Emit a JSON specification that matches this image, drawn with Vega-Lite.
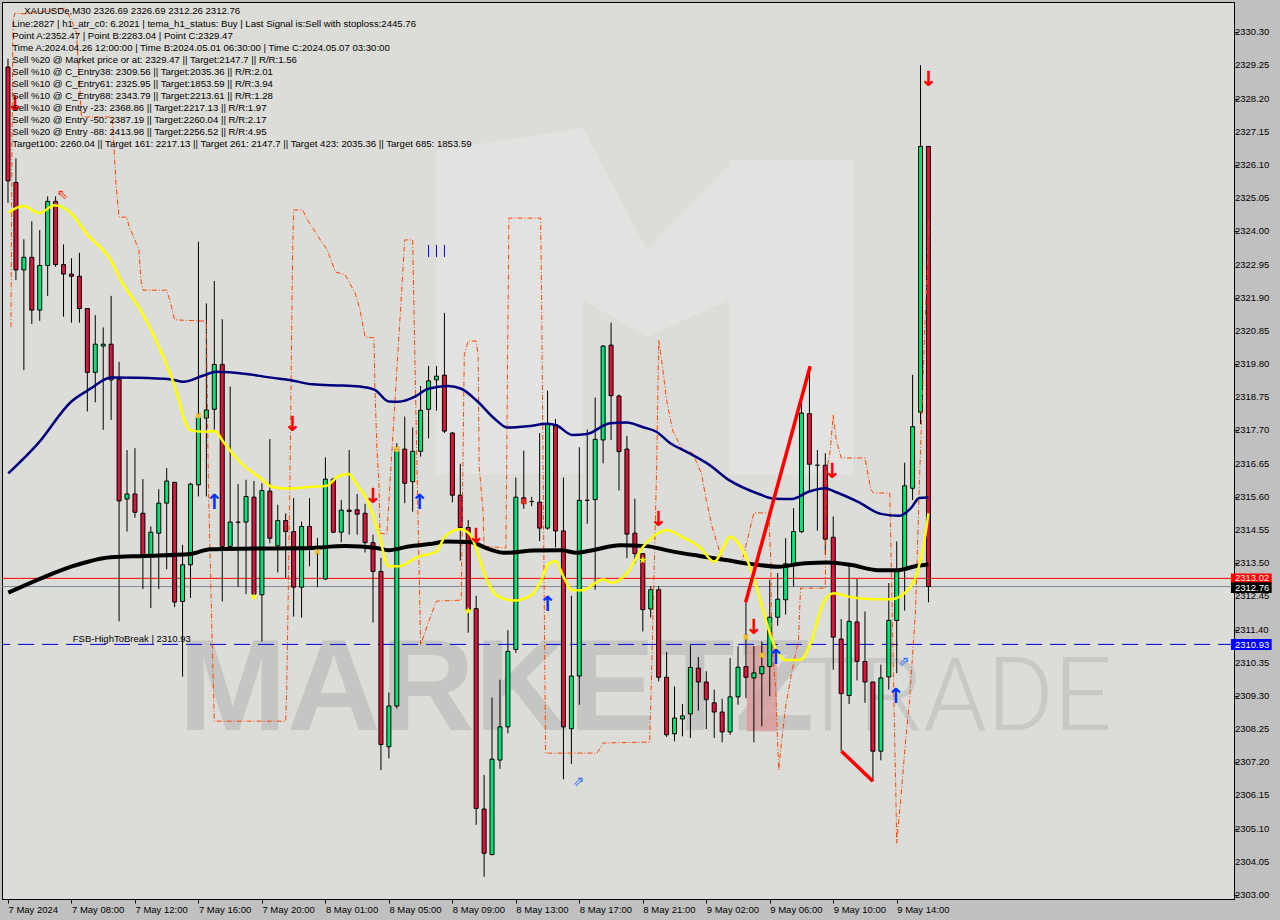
{
"$schema":"https://vega.github.io/schema/vega-lite/v6.json",
"width":1232,"height":897,"autosize":"none",
"padding":{"left":2,"top":2,"right":46,"bottom":21},
"background":"#c0c0c0",
"config":{"view":{"fill":"#dcdcd8","stroke":"#000000","strokeWidth":1},"font":"Liberation Sans",
 "axis":{"grid":false,"labelFont":"Liberation Sans","labelFontSize":9.5,"labelColor":"#000000","tickColor":"#000000","domainColor":"#000000","tickSize":4,"titleOpacity":0,"labelOverlap":false}},
"datasets":{
"candles":[
{"k":0,"o":2329.2,"h":2329.47,"l":2324.9,"c":2325.6},
{"k":1,"o":2325.55,"h":2326.31,"l":2322.46,"c":2322.78},
{"k":2,"o":2322.78,"h":2323.75,"l":2319.61,"c":2323.18},
{"k":3,"o":2323.18,"h":2324.32,"l":2321.07,"c":2321.51},
{"k":4,"o":2321.51,"h":2324.04,"l":2321.17,"c":2322.92},
{"k":5,"o":2322.92,"h":2325.11,"l":2321.96,"c":2324.95},
{"k":6,"o":2324.95,"h":2325.11,"l":2322.88,"c":2322.95},
{"k":7,"o":2322.95,"h":2323.59,"l":2321.30,"c":2322.65},
{"k":8,"o":2322.65,"h":2323.15,"l":2321.11,"c":2322.58},
{"k":9,"o":2322.58,"h":2323.32,"l":2321.11,"c":2321.56},
{"k":10,"o":2321.56,"h":2321.56,"l":2318.30,"c":2319.54},
{"k":11,"o":2319.54,"h":2321.35,"l":2318.59,"c":2320.43},
{"k":12,"o":2320.37,"h":2320.96,"l":2317.72,"c":2320.43},
{"k":13,"o":2320.43,"h":2321.96,"l":2318.03,"c":2319.30},
{"k":14,"o":2319.32,"h":2319.87,"l":2311.66,"c":2315.47},
{"k":15,"o":2315.53,"h":2317.08,"l":2314.50,"c":2315.69},
{"k":16,"o":2315.69,"h":2317.14,"l":2314.94,"c":2315.11},
{"k":17,"o":2315.08,"h":2316.16,"l":2312.68,"c":2313.77},
{"k":18,"o":2313.77,"h":2314.66,"l":2312.08,"c":2314.48},
{"k":19,"o":2314.45,"h":2315.84,"l":2312.68,"c":2315.40},
{"k":20,"o":2315.40,"h":2316.51,"l":2313.31,"c":2316.10},
{"k":21,"o":2316.06,"h":2316.06,"l":2312.11,"c":2312.27},
{"k":22,"o":2312.29,"h":2314.08,"l":2309.91,"c":2313.45},
{"k":23,"o":2313.45,"h":2316.05,"l":2312.40,"c":2316.00},
{"k":24,"o":2315.98,"h":2323.67,"l":2315.61,"c":2318.14},
{"k":25,"o":2318.09,"h":2321.72,"l":2315.61,"c":2318.35},
{"k":26,"o":2318.37,"h":2322.43,"l":2317.72,"c":2319.79},
{"k":27,"o":2319.79,"h":2321.22,"l":2312.29,"c":2314.03},
{"k":28,"o":2314.03,"h":2319.09,"l":2314.03,"c":2314.80},
{"k":29,"o":2314.80,"h":2316.00,"l":2312.74,"c":2314.79},
{"k":30,"o":2314.80,"h":2316.14,"l":2312.52,"c":2315.61},
{"k":31,"o":2315.59,"h":2316.10,"l":2312.45,"c":2312.52},
{"k":32,"o":2312.50,"h":2316.03,"l":2311.02,"c":2315.80},
{"k":33,"o":2315.78,"h":2317.43,"l":2314.13,"c":2314.29},
{"k":34,"o":2314.05,"h":2315.35,"l":2313.21,"c":2314.85},
{"k":35,"o":2314.85,"h":2315.08,"l":2313.03,"c":2314.50},
{"k":36,"o":2314.50,"h":2315.56,"l":2311.81,"c":2312.74},
{"k":37,"o":2312.74,"h":2314.82,"l":2311.78,"c":2314.66},
{"k":38,"o":2314.66,"h":2315.56,"l":2313.40,"c":2314.03},
{"k":39,"o":2314.03,"h":2314.30,"l":2312.74,"c":2313.97},
{"k":40,"o":2313.00,"h":2316.85,"l":2312.97,"c":2316.16},
{"k":41,"o":2316.16,"h":2316.20,"l":2314.45,"c":2314.48},
{"k":42,"o":2314.48,"h":2315.50,"l":2314.16,"c":2315.18},
{"k":43,"o":2315.18,"h":2317.08,"l":2314.40,"c":2315.14},
{"k":44,"o":2315.19,"h":2315.69,"l":2314.40,"c":2315.05},
{"k":45,"o":2315.08,"h":2315.38,"l":2313.84,"c":2314.15},
{"k":46,"o":2314.15,"h":2314.40,"l":2311.62,"c":2313.24},
{"k":47,"o":2313.24,"h":2313.67,"l":2306.95,"c":2307.76},
{"k":48,"o":2307.69,"h":2309.41,"l":2307.32,"c":2308.98},
{"k":49,"o":2308.98,"h":2317.30,"l":2308.90,"c":2317.11},
{"k":50,"o":2317.11,"h":2318.14,"l":2315.40,"c":2316.03},
{"k":51,"o":2316.08,"h":2317.80,"l":2315.13,"c":2317.04},
{"k":52,"o":2317.04,"h":2319.11,"l":2316.87,"c":2318.34},
{"k":53,"o":2318.37,"h":2319.74,"l":2317.45,"c":2319.27},
{"k":54,"o":2319.30,"h":2319.74,"l":2318.33,"c":2319.42},
{"k":55,"o":2319.45,"h":2321.42,"l":2317.62,"c":2317.68},
{"k":56,"o":2317.62,"h":2317.65,"l":2315.42,"c":2315.65},
{"k":57,"o":2315.65,"h":2316.65,"l":2313.58,"c":2314.63},
{"k":58,"o":2314.63,"h":2314.87,"l":2311.30,"c":2312.00},
{"k":59,"o":2312.06,"h":2312.47,"l":2305.22,"c":2305.74},
{"k":60,"o":2305.72,"h":2306.80,"l":2303.58,"c":2304.32},
{"k":61,"o":2304.28,"h":2309.25,"l":2304.25,"c":2307.30},
{"k":62,"o":2307.27,"h":2309.81,"l":2306.99,"c":2308.32},
{"k":63,"o":2308.32,"h":2311.38,"l":2308.12,"c":2310.71},
{"k":64,"o":2310.77,"h":2316.21,"l":2310.66,"c":2315.59},
{"k":65,"o":2315.57,"h":2317.06,"l":2315.22,"c":2315.39},
{"k":66,"o":2315.45,"h":2315.60,"l":2315.30,"c":2315.45},
{"k":67,"o":2315.43,"h":2317.62,"l":2314.20,"c":2314.61},
{"k":68,"o":2314.61,"h":2318.96,"l":2314.56,"c":2317.89},
{"k":69,"o":2317.89,"h":2318.06,"l":2314.00,"c":2314.52},
{"k":70,"o":2314.52,"h":2316.21,"l":2306.66,"c":2308.32},
{"k":71,"o":2308.26,"h":2312.47,"l":2307.15,"c":2309.93},
{"k":72,"o":2309.93,"h":2317.17,"l":2309.02,"c":2315.49},
{"k":73,"o":2315.49,"h":2317.73,"l":2314.75,"c":2315.49},
{"k":74,"o":2315.51,"h":2318.74,"l":2312.66,"c":2317.42},
{"k":75,"o":2317.40,"h":2320.40,"l":2316.66,"c":2320.37},
{"k":76,"o":2320.40,"h":2321.11,"l":2317.40,"c":2318.80},
{"k":77,"o":2318.79,"h":2318.84,"l":2315.80,"c":2317.03},
{"k":78,"o":2317.11,"h":2317.53,"l":2313.66,"c":2314.42},
{"k":79,"o":2314.45,"h":2315.54,"l":2313.50,"c":2313.80},
{"k":80,"o":2313.80,"h":2313.82,"l":2311.34,"c":2312.03},
{"k":81,"o":2312.05,"h":2312.77,"l":2311.78,"c":2312.66},
{"k":82,"o":2312.66,"h":2312.77,"l":2309.76,"c":2309.89},
{"k":83,"o":2309.89,"h":2310.69,"l":2308.00,"c":2308.07},
{"k":84,"o":2308.10,"h":2309.60,"l":2307.86,"c":2308.60},
{"k":85,"o":2308.57,"h":2309.04,"l":2308.02,"c":2308.67},
{"k":86,"o":2308.73,"h":2310.90,"l":2307.97,"c":2310.20},
{"k":87,"o":2310.18,"h":2310.53,"l":2308.83,"c":2309.74},
{"k":88,"o":2309.74,"h":2310.08,"l":2308.25,"c":2309.18},
{"k":89,"o":2309.08,"h":2309.50,"l":2307.97,"c":2308.79},
{"k":90,"o":2308.79,"h":2309.21,"l":2307.83,"c":2308.16},
{"k":91,"o":2308.16,"h":2310.50,"l":2308.07,"c":2309.27},
{"k":92,"o":2309.27,"h":2310.87,"l":2309.02,"c":2310.21},
{"k":93,"o":2310.23,"h":2312.26,"l":2309.23,"c":2309.89},
{"k":94,"o":2309.87,"h":2310.87,"l":2307.83,"c":2310.03},
{"k":95,"o":2310.00,"h":2311.02,"l":2308.34,"c":2310.23},
{"k":96,"o":2310.23,"h":2312.97,"l":2309.29,"c":2311.79},
{"k":97,"o":2311.79,"h":2313.19,"l":2311.52,"c":2312.36},
{"k":98,"o":2312.34,"h":2314.29,"l":2311.87,"c":2313.48},
{"k":99,"o":2313.48,"h":2315.24,"l":2312.76,"c":2314.50},
{"k":100,"o":2314.50,"h":2318.61,"l":2314.45,"c":2318.25},
{"k":101,"o":2318.23,"h":2319.72,"l":2315.72,"c":2316.63},
{"k":102,"o":2316.60,"h":2317.08,"l":2314.53,"c":2316.60},
{"k":103,"o":2316.60,"h":2316.98,"l":2313.76,"c":2314.26},
{"k":104,"o":2314.32,"h":2314.98,"l":2310.13,"c":2311.16},
{"k":105,"o":2311.10,"h":2311.73,"l":2307.55,"c":2309.37},
{"k":106,"o":2309.31,"h":2313.42,"l":2309.04,"c":2311.66},
{"k":107,"o":2311.64,"h":2313.00,"l":2309.79,"c":2310.39},
{"k":108,"o":2310.39,"h":2311.97,"l":2309.08,"c":2309.74},
{"k":109,"o":2309.74,"h":2309.74,"l":2306.60,"c":2307.55},
{"k":110,"o":2307.55,"h":2310.29,"l":2307.26,"c":2309.87},
{"k":111,"o":2309.90,"h":2312.87,"l":2309.50,"c":2311.69},
{"k":112,"o":2311.69,"h":2314.19,"l":2310.02,"c":2313.29},
{"k":113,"o":2313.29,"h":2316.68,"l":2312.00,"c":2315.95},
{"k":114,"o":2315.87,"h":2319.46,"l":2315.50,"c":2317.82},
{"k":115,"o":2318.28,"h":2329.26,"l":2317.90,"c":2326.69},
{"k":116,"o":2326.69,"h":2326.69,"l":2312.26,"c":2312.76}
],
"yellow":[
{"k":0.04,"p":2324.59},{"k":1.91,"p":2324.80},{"k":4,"p":2324.58},{"k":5.88,"p":2324.83},{"k":7.75,"p":2324.62},{"k":10.04,"p":2323.89},{"k":12.96,"p":2323.09},{"k":14.21,"p":2322.46},{"k":16.71,"p":2321.51},{"k":19.21,"p":2320.25},{"k":20.88,"p":2319.20},{"k":22.96,"p":2317.71},{"k":24.63,"p":2317.66},{"k":26.09,"p":2317.68},{"k":27.13,"p":2317.34},{"k":29.21,"p":2316.71},{"k":32.13,"p":2316.13},{"k":33.16,"p":2315.92},{"k":35.46,"p":2315.86},{"k":38.38,"p":2315.92},{"k":40.04,"p":2315.94},{"k":41.71,"p":2316.26},{"k":42.96,"p":2316.32},{"k":44,"p":2315.97},{"k":45.25,"p":2315.50},{"k":46.71,"p":2314.45},{"k":47.96,"p":2313.40},{"k":49.21,"p":2313.40},{"k":51.71,"p":2313.71},{"k":54,"p":2313.87},{"k":55.04,"p":2314.33},{"k":56.91,"p":2314.57},{"k":58.16,"p":2314.43},{"k":59,"p":2313.98},{"k":60.04,"p":2313.16},{"k":61.71,"p":2312.46},{"k":63.79,"p":2312.32},{"k":66.09,"p":2312.52},{"k":67.13,"p":2312.93},{"k":68.16,"p":2313.49},{"k":69,"p":2313.57},{"k":70.04,"p":2313.05},{"k":71.09,"p":2312.64},{"k":72.34,"p":2312.64},{"k":75.04,"p":2312.99},{"k":76.09,"p":2312.88},{"k":77.96,"p":2313.18},{"k":80.04,"p":2314.02},{"k":81.29,"p":2314.34},{"k":82.96,"p":2314.55},{"k":85.04,"p":2314.32},{"k":87.13,"p":2314.02},{"k":89,"p":2313.55},{"k":91.09,"p":2314.34},{"k":92.34,"p":2314.02},{"k":93.79,"p":2313.18},{"k":95.04,"p":2312.12},{"k":96.29,"p":2311.07},{"k":97.96,"p":2310.44},{"k":99.84,"p":2310.44},{"k":101.29,"p":2311.07},{"k":102.54,"p":2312.12},{"k":104,"p":2312.55},{"k":106.29,"p":2312.42},{"k":109.21,"p":2312.36},{"k":111.29,"p":2312.36},{"k":112.96,"p":2312.55},{"k":114.63,"p":2313.25},{"k":115.46,"p":2314.14},{"k":116,"p":2315.08}
],
"navy":[
{"k":0.04,"p":2316.34},{"k":3.79,"p":2317.29},{"k":7.96,"p":2318.61},{"k":10.46,"p":2319.03},{"k":12.96,"p":2319.38},{"k":16.29,"p":2319.37},{"k":20.46,"p":2319.32},{"k":22.13,"p":2319.24},{"k":24.63,"p":2319.44},{"k":26.29,"p":2319.56},{"k":30.04,"p":2319.49},{"k":32.96,"p":2319.38},{"k":35.46,"p":2319.30},{"k":38.38,"p":2319.16},{"k":42.13,"p":2319.12},{"k":44.63,"p":2319.08},{"k":46.29,"p":2318.98},{"k":47.96,"p":2318.62},{"k":49.21,"p":2318.61},{"k":51.29,"p":2318.77},{"k":52.96,"p":2319.02},{"k":55.46,"p":2319.11},{"k":57.13,"p":2319.02},{"k":59.21,"p":2318.61},{"k":61.29,"p":2318.08},{"k":62.96,"p":2317.79},{"k":65.46,"p":2317.83},{"k":67.96,"p":2317.91},{"k":69.21,"p":2317.85},{"k":71.09,"p":2317.56},{"k":72.96,"p":2317.59},{"k":75.88,"p":2317.93},{"k":77.96,"p":2317.95},{"k":80.04,"p":2317.80},{"k":81.71,"p":2317.66},{"k":83.38,"p":2317.31},{"k":85.46,"p":2317.03},{"k":88.38,"p":2316.61},{"k":90.88,"p":2316.13},{"k":94.63,"p":2315.69},{"k":96.29,"p":2315.55},{"k":98.79,"p":2315.53},{"k":100.88,"p":2315.76},{"k":102.96,"p":2315.87},{"k":104.21,"p":2315.76},{"k":107.13,"p":2315.44},{"k":110,"p":2315.06},{"k":112.34,"p":2315.00},{"k":113.79,"p":2315.24},{"k":114.84,"p":2315.56},{"k":116,"p":2315.58}
],
"black":[
{"k":0.04,"p":2312.57},{"k":4.63,"p":2313.07},{"k":7.96,"p":2313.39},{"k":12.96,"p":2313.69},{"k":17.13,"p":2313.73},{"k":22.96,"p":2313.79},{"k":25.46,"p":2313.94},{"k":29.63,"p":2313.96},{"k":37.13,"p":2313.97},{"k":42.54,"p":2314.04},{"k":46.29,"p":2313.99},{"k":47.96,"p":2313.91},{"k":50.46,"p":2314.03},{"k":53.79,"p":2314.13},{"k":55.04,"p":2314.19},{"k":58.38,"p":2314.16},{"k":60.46,"p":2313.96},{"k":62.54,"p":2313.83},{"k":66.29,"p":2313.90},{"k":69.63,"p":2313.91},{"k":71.71,"p":2313.83},{"k":73.79,"p":2313.92},{"k":77.13,"p":2314.07},{"k":80.46,"p":2314.04},{"k":83.38,"p":2313.89},{"k":87.13,"p":2313.73},{"k":90.46,"p":2313.60},{"k":93.79,"p":2313.47},{"k":97.13,"p":2313.39},{"k":100.46,"p":2313.50},{"k":103.38,"p":2313.52},{"k":106.29,"p":2313.44},{"k":109.63,"p":2313.28},{"k":112.13,"p":2313.28},{"k":114.63,"p":2313.42},{"k":116,"p":2313.46}
],
"orange":[
{"k":0.375,"p":2320.97},{"k":0.5,"p":2326.58},{"k":0.625,"p":2330.69},{"k":0.875,"p":2330.91},{"k":2.125,"p":2330.88},{"k":6.25,"p":2331.01},{"k":7.125,"p":2331.07},{"k":8,"p":2330.69},{"k":8.625,"p":2330.28},{"k":9,"p":2328.79},{"k":9.25,"p":2327.62},{"k":13.125,"p":2327.62},{"k":13.375,"p":2326.58},{"k":13.6,"p":2325.53},{"k":14,"p":2324.45},{"k":15,"p":2324.45},{"k":15.25,"p":2324.14},{"k":15.625,"p":2323.95},{"k":16.5,"p":2323.41},{"k":16.75,"p":2322.46},{"k":17,"p":2322.14},{"k":20,"p":2322.14},{"k":20.5,"p":2321.73},{"k":21,"p":2321.20},{"k":25,"p":2321.16},{"k":25.25,"p":2316.04},{"k":25.75,"p":2310.85},{"k":26,"p":2308.50},{"k":35,"p":2308.50},{"k":35.125,"p":2309.48},{"k":35.5,"p":2315.50},{"k":35.875,"p":2323.41},{"k":36,"p":2324.68},{"k":37.125,"p":2324.68},{"k":37.75,"p":2324.36},{"k":39.375,"p":2323.73},{"k":40.25,"p":2323.41},{"k":41.25,"p":2322.72},{"k":42.5,"p":2322.62},{"k":43.75,"p":2322.05},{"k":44.375,"p":2321.51},{"k":45,"p":2320.66},{"k":46.125,"p":2320.63},{"k":46.25,"p":2318.98},{"k":46.5,"p":2317.08},{"k":46.75,"p":2316.04},{"k":46.875,"p":2314.45},{"k":47.75,"p":2314.42},{"k":50,"p":2323.73},{"k":51,"p":2323.73},{"k":51.5,"p":2317.08},{"k":52,"p":2310.91},{"k":53,"p":2311.64},{"k":54,"p":2312.30},{"k":57.125,"p":2312.33},{"k":57.5,"p":2320.09},{"k":58,"p":2320.53},{"k":59,"p":2320.53},{"k":59.25,"p":2320.09},{"k":59.375,"p":2316.57},{"k":59.875,"p":2315.15},{"k":60,"p":2314.04},{"k":62.75,"p":2313.98},{"k":63.125,"p":2324.42},{"k":67.125,"p":2324.42},{"k":67.25,"p":2321.83},{"k":67.75,"p":2307.49},{"k":74.25,"p":2307.49},{"k":75,"p":2307.81},{"k":80.875,"p":2307.84},{"k":81.125,"p":2310.21},{"k":81.75,"p":2316.54},{"k":82,"p":2320.56},{"k":82.375,"p":2319.93},{"k":83,"p":2318.66},{"k":83.75,"p":2317.71},{"k":85,"p":2317.08},{"k":86.25,"p":2316.99},{"k":87.375,"p":2316.35},{"k":88,"p":2315.50},{"k":88.75,"p":2314.64},{"k":89.625,"p":2313.92},{"k":90,"p":2313.60},{"k":92.5,"p":2313.54},{"k":93.375,"p":2314.45},{"k":94,"p":2315.09},{"k":95.875,"p":2315.09},{"k":96.125,"p":2313.60},{"k":96.25,"p":2311.07},{"k":96.75,"p":2309.49},{"k":97.125,"p":2306.95},{"k":97.5,"p":2307.90},{"k":98,"p":2308.95},{"k":98.75,"p":2310.02},{"k":99.625,"p":2311.07},{"k":99.875,"p":2312.71},{"k":103,"p":2312.71},{"k":103.125,"p":2316.35},{"k":103.625,"p":2317.08},{"k":104,"p":2318.19},{"k":104.375,"p":2317.40},{"k":105,"p":2316.83},{"k":108,"p":2316.83},{"k":108.75,"p":2315.82},{"k":109.125,"p":2315.72},{"k":111.125,"p":2315.72},{"k":111.25,"p":2314.23},{"k":111.5,"p":2311.07},{"k":111.75,"p":2307.90},{"k":111.875,"p":2306.42},{"k":112,"p":2304.64},{"k":112.5,"p":2306.00},{"k":113.125,"p":2307.90},{"k":113.625,"p":2309.17},{"k":114.375,"p":2312.02},{"k":114.875,"p":2316.16},{"k":115.25,"p":2318.88},{"k":115.625,"p":2321.48},{"k":115.875,"p":2322.97},{"k":116,"p":2324.33}
],
"trend":[
{"g":1,"k":92.96,"p":2312.26},{"g":1,"k":101.09,"p":2319.73},{"g":2,"k":105.04,"p":2307.55},{"g":2,"k":109,"p":2306.60}
],
"logo":[
{"g":"a","k":54,"p":2326.57,"p2":2316.32},{"g":"a","k":72.5,"p":2327.27,"p2":2316.32},
{"g":"b","k":72.5,"p":2327.27,"p2":2321.83},{"g":"b","k":80.5,"p":2323.41,"p2":2320.66},{"g":"b","k":90.875,"p":2326.10,"p2":2321.83},
{"g":"c","k":90.875,"p":2326.26,"p2":2316.29},{"g":"c","k":106.5,"p":2326.26,"p2":2316.29}
],
"priceLabels":[
{"p":2303.00,"t":"2303.00"},{"p":2304.05,"t":"2304.05"},{"p":2305.10,"t":"2305.10"},{"p":2306.15,"t":"2306.15"},{"p":2307.20,"t":"2307.20"},{"p":2308.25,"t":"2308.25"},{"p":2309.30,"t":"2309.30"},{"p":2310.35,"t":"2310.35"},{"p":2311.40,"t":"2311.40"},{"p":2312.45,"t":"2312.45"},{"p":2313.50,"t":"2313.50"},{"p":2314.55,"t":"2314.55"},{"p":2315.60,"t":"2315.60"},{"p":2316.65,"t":"2316.65"},{"p":2317.70,"t":"2317.70"},{"p":2318.75,"t":"2318.75"},{"p":2319.80,"t":"2319.80"},{"p":2320.85,"t":"2320.85"},{"p":2321.90,"t":"2321.90"},{"p":2322.95,"t":"2322.95"},{"p":2324.00,"t":"2324.00"},{"p":2325.05,"t":"2325.05"},{"p":2326.10,"t":"2326.10"},{"p":2327.15,"t":"2327.15"},{"p":2328.20,"t":"2328.20"},{"p":2329.25,"t":"2329.25"},{"p":2330.30,"t":"2330.30"}
],
"redArrows":[
{"k":0.875,"p":2328.00},{"k":35.875,"p":2317.87},{"k":46,"p":2315.59},{"k":59,"p":2314.33},{"k":82,"p":2314.87},{"k":94,"p":2311.45},{"k":103.875,"p":2316.39},{"k":116,"p":2328.79}
],
"blueArrows":[
{"k":26,"p":2315.41},{"k":51.875,"p":2315.41},{"k":68,"p":2312.18},{"k":96.75,"p":2310.50},{"k":111.875,"p":2309.27}
],
"stars":[{"k":31,"p":2312.44},{"k":58,"p":2311.99},{"k":80,"p":2313.60}],
"crosses":[{"k":24,"p":2318.17},{"k":39,"p":2313.86},{"k":49,"p":2317.11},{"k":93,"p":2311.16},{"k":95,"p":2310.59}],
"header":[
{"k":2.04,"p":2330.983,"t":"XAUUSDe,M30  2326.69 2326.69 2312.26 2312.76"},
{"k":0.54,"p":2330.566,"t":"Line:2827 | h1_atr_c0: 6.2021 | tema_h1_status: Buy | Last Signal is:Sell with stoploss:2445.76"},
{"k":0.54,"p":2330.186,"t":"Point A:2352.47 | Point B:2283.04 | Point C:2329.47"},
{"k":0.54,"p":2329.806,"t":"Time A:2024.04.26 12:00:00 | Time B:2024.05.01 06:30:00 | Time C:2024.05.07 03:30:00"},
{"k":0.54,"p":2329.426,"t":"Sell %20 @ Market price or at: 2329.47 || Target:2147.7 || R/R:1.56"},
{"k":0.54,"p":2329.047,"t":"Sell %10 @ C_Entry38: 2309.56 || Target:2035.36 || R/R:2.01"},
{"k":0.54,"p":2328.667,"t":"Sell %10 @ C_Entry61: 2325.95 || Target:1853.59 || R/R:3.94"},
{"k":0.54,"p":2328.287,"t":"Sell %10 @ C_Entry88: 2343.79 || Target:2213.61 || R/R:1.28"},
{"k":0.54,"p":2327.907,"t":"Sell %10 @ Entry -23: 2368.86 || Target:2217.13 || R/R:1.97"},
{"k":0.54,"p":2327.528,"t":"Sell %20 @ Entry -50: 2387.19 || Target:2260.04 || R/R:2.17"},
{"k":0.54,"p":2327.148,"t":"Sell %20 @ Entry -88: 2413.98 || Target:2256.52 || R/R:4.95"},
{"k":0.54,"p":2326.768,"t":"Target100: 2260.04 || Target 161: 2217.13 || Target 261: 2147.7 || Target 423: 2035.36 || Target 685: 1853.59"}
]
},
"layer":[
{"data":{"name":"logo"},
 "mark":{"type":"area","color":"#e2e2e0","opacity":1},
 "encoding":{"x":{"field":"k","type":"quantitative","scale":{"domain":[-0.125,153.875],"nice":false,"zero":false}},"y":{"field":"p","type":"quantitative","scale":{"domain":[2302.873,2331.259],"nice":false,"zero":false}},"y2":{"field":"p2"},"detail":{"field":"g"}}},
{"data":{"values":[{"k":21.5,"p":2308.22,"t":"MARKETZ"}]},
 "mark":{"type":"text","align":"left","baseline":"alphabetic","fontSize":130,"fontWeight":"bold","font":"Liberation Sans","color":"#c5c5c3"},
 "encoding":{"x":{"field":"k","type":"quantitative","scale":{"domain":[-0.125,153.875],"nice":false,"zero":false}},"y":{"field":"p","type":"quantitative","scale":{"domain":[2302.873,2331.259],"nice":false,"zero":false}},"text":{"field":"t"}}},
{"data":{"values":[{"k":99.5,"p":2308.22,"t":"TRADE"}]},
 "mark":{"type":"text","align":"left","baseline":"alphabetic","fontSize":102,"fontWeight":300,"font":"Roboto","color":"#c8c8c6"},
 "encoding":{"x":{"field":"k","type":"quantitative","scale":{"domain":[-0.125,153.875],"nice":false,"zero":false}},"y":{"field":"p","type":"quantitative","scale":{"domain":[2302.873,2331.259],"nice":false,"zero":false}},"text":{"field":"t"}}},
{"data":{"values":[{"k":93.1,"k2":96.9,"p":2310.89,"p2":2308.18}]},
 "mark":{"type":"rect","color":"#d99a9a","opacity":0.8},
 "encoding":{"x":{"field":"k","type":"quantitative","scale":{"domain":[-0.125,153.875],"nice":false,"zero":false}},"x2":{"field":"k2"},"y":{"field":"p","type":"quantitative","scale":{"domain":[2302.873,2331.259],"nice":false,"zero":false}},"y2":{"field":"p2"}}},
{"data":{"values":[{"p":2313.02}]},
 "mark":{"type":"rule","color":"#ff0000","strokeWidth":1},
 "encoding":{"y":{"field":"p","type":"quantitative","scale":{"domain":[2302.873,2331.259],"nice":false,"zero":false}}}},
{"data":{"values":[{"p":2312.76}]},
 "mark":{"type":"rule","color":"#7a8a9a","strokeWidth":1},
 "encoding":{"y":{"field":"p","type":"quantitative","scale":{"domain":[2302.873,2331.259],"nice":false,"zero":false}}}},
{"data":{"values":[{"p":2310.93}]},
 "mark":{"type":"rule","color":"#0000e0","strokeWidth":1,"strokeDash":[16,8]},
 "encoding":{"y":{"field":"p","type":"quantitative","scale":{"domain":[2302.873,2331.259],"nice":false,"zero":false}}}},
{"data":{"name":"candles"},
 "mark":{"type":"rule","color":"#000000","strokeWidth":1},
 "encoding":{
  "x":{"field":"k","type":"quantitative","scale":{"domain":[-0.125,153.875],"nice":false,"zero":false},
   "axis":{"orient":"bottom","values":[0,8,16,24,32,40,48,56,64,72,80,88,96,104,112],
    "labelExpr":"['7 May 2024','7 May 08:00','7 May 12:00','7 May 16:00','7 May 20:00','8 May 01:00','8 May 05:00','8 May 09:00','8 May 13:00','8 May 17:00','8 May 21:00','9 May 02:00','9 May 06:00','9 May 10:00','9 May 14:00'][round(datum.value/8)]",
    "labelAlign":"left","labelBaseline":"top","labelPadding":1,"tickSize":4,"tickColor":"#000000","domainColor":"#000000","labelColor":"#000000","labelFontSize":9.5,"labelFont":"Liberation Sans","grid":false,"title":null,"labelFlush":false,"labelOverlap":false}},
  "y":{"field":"l","type":"quantitative","scale":{"domain":[2302.873,2331.259],"nice":false,"zero":false},
   "axis":{"orient":"right","values":[2303.00,2304.05,2305.10,2306.15,2307.20,2308.25,2309.30,2310.35,2311.40,2312.45,2313.50,2314.55,2315.60,2316.65,2317.70,2318.75,2319.80,2320.85,2321.90,2322.95,2324.00,2325.05,2326.10,2327.15,2328.20,2329.25,2330.30],
    "labels":false,"tickSize":4,"tickColor":"#000000","domainColor":"#000000","grid":false,"title":null}},
  "y2":{"field":"h"}}},
{"data":{"name":"priceLabels"},
 "mark":{"type":"text","align":"left","baseline":"middle","fontSize":9.5,"font":"Liberation Sans","color":"#000000","dx":6},
 "encoding":{"x":{"datum":153.875,"type":"quantitative","scale":{"domain":[-0.125,153.875],"nice":false,"zero":false}},"y":{"field":"p","type":"quantitative","scale":{"domain":[2302.873,2331.259],"nice":false,"zero":false}},"text":{"field":"t"}}},
{"data":{"name":"candles"},
 "mark":{"type":"bar","size":4,"stroke":"#000000","strokeWidth":1},
 "encoding":{
  "x":{"field":"k","type":"quantitative","scale":{"domain":[-0.125,153.875],"nice":false,"zero":false}},
  "y":{"field":"o","type":"quantitative","scale":{"domain":[2302.873,2331.259],"nice":false,"zero":false}},
  "y2":{"field":"c"},
  "fill":{"condition":{"test":"datum.c >= datum.o","value":"#00e676"},"value":"#dc143c"}}},
{"data":{"name":"orange"},
 "mark":{"type":"line","color":"#ff4500","strokeWidth":1,"strokeDash":[5,2,1,2]},
 "encoding":{"x":{"field":"k","type":"quantitative","scale":{"domain":[-0.125,153.875],"nice":false,"zero":false}},"y":{"field":"p","type":"quantitative","scale":{"domain":[2302.873,2331.259],"nice":false,"zero":false}}}},
{"data":{"name":"black"},
 "mark":{"type":"line","color":"#000000","strokeWidth":4,"interpolate":"monotone"},
 "encoding":{"x":{"field":"k","type":"quantitative","scale":{"domain":[-0.125,153.875],"nice":false,"zero":false}},"y":{"field":"p","type":"quantitative","scale":{"domain":[2302.873,2331.259],"nice":false,"zero":false}}}},
{"data":{"name":"navy"},
 "mark":{"type":"line","color":"#00007f","strokeWidth":2.5,"interpolate":"monotone"},
 "encoding":{"x":{"field":"k","type":"quantitative","scale":{"domain":[-0.125,153.875],"nice":false,"zero":false}},"y":{"field":"p","type":"quantitative","scale":{"domain":[2302.873,2331.259],"nice":false,"zero":false}}}},
{"data":{"name":"yellow"},
 "mark":{"type":"line","color":"#ffff00","strokeWidth":2.5,"interpolate":"monotone"},
 "encoding":{"x":{"field":"k","type":"quantitative","scale":{"domain":[-0.125,153.875],"nice":false,"zero":false}},"y":{"field":"p","type":"quantitative","scale":{"domain":[2302.873,2331.259],"nice":false,"zero":false}}}},
{"data":{"name":"trend"},
 "mark":{"type":"line","color":"#ff0000","strokeWidth":3.5},
 "encoding":{"x":{"field":"k","type":"quantitative","scale":{"domain":[-0.125,153.875],"nice":false,"zero":false}},"y":{"field":"p","type":"quantitative","scale":{"domain":[2302.873,2331.259],"nice":false,"zero":false}},"detail":{"field":"g"}}},
{"data":{"values":[{"k":53,"p":2323.19,"p2":2323.57},{"k":54,"p":2323.19,"p2":2323.57},{"k":55,"p":2323.19,"p2":2323.57}]},
 "mark":{"type":"rule","color":"#0000ff","strokeWidth":1},
 "encoding":{"x":{"field":"k","type":"quantitative","scale":{"domain":[-0.125,153.875],"nice":false,"zero":false}},"y":{"field":"p","type":"quantitative","scale":{"domain":[2302.873,2331.259],"nice":false,"zero":false}},"y2":{"field":"p2"}}},
{"data":{"name":"stars"},
 "mark":{"type":"point","shape":"M0,-1L0.2245,-0.309L0.951,-0.309L0.3633,0.118L0.5878,0.809L0,0.382L-0.5878,0.809L-0.3633,0.118L-0.951,-0.309L-0.2245,-0.309Z","filled":true,"color":"#ffff00","size":70,"opacity":1},
 "encoding":{"x":{"field":"k","type":"quantitative","scale":{"domain":[-0.125,153.875],"nice":false,"zero":false}},"y":{"field":"p","type":"quantitative","scale":{"domain":[2302.873,2331.259],"nice":false,"zero":false}}}},
{"data":{"name":"crosses"},
 "mark":{"type":"point","shape":"cross","angle":45,"filled":true,"color":"#e8c030","size":40,"opacity":1},
 "encoding":{"x":{"field":"k","type":"quantitative","scale":{"domain":[-0.125,153.875],"nice":false,"zero":false}},"y":{"field":"p","type":"quantitative","scale":{"domain":[2302.873,2331.259],"nice":false,"zero":false}}}},
{"data":{"values":[{"k":65,"p":2315.45}]},
 "mark":{"type":"point","shape":"cross","angle":45,"filled":true,"color":"#e03020","size":40,"opacity":1},
 "encoding":{"x":{"field":"k","type":"quantitative","scale":{"domain":[-0.125,153.875],"nice":false,"zero":false}},"y":{"field":"p","type":"quantitative","scale":{"domain":[2302.873,2331.259],"nice":false,"zero":false}}}},
{"data":{"name":"redArrows"},
 "mark":{"type":"text","text":"↓","font":"DejaVu Sans","fontWeight":"bold","fontSize":21,"color":"#ff0000","align":"center","baseline":"middle"},
 "encoding":{"x":{"field":"k","type":"quantitative","scale":{"domain":[-0.125,153.875],"nice":false,"zero":false}},"y":{"field":"p","type":"quantitative","scale":{"domain":[2302.873,2331.259],"nice":false,"zero":false}}}},
{"data":{"name":"blueArrows"},
 "mark":{"type":"text","text":"↑","font":"DejaVu Sans","fontWeight":"bold","fontSize":21,"color":"#0030ff","align":"center","baseline":"middle"},
 "encoding":{"x":{"field":"k","type":"quantitative","scale":{"domain":[-0.125,153.875],"nice":false,"zero":false}},"y":{"field":"p","type":"quantitative","scale":{"domain":[2302.873,2331.259],"nice":false,"zero":false}}}},
{"data":{"values":[{"k":6.875,"p":2325.15}]},
 "mark":{"type":"text","text":"⇖","font":"DejaVu Sans","fontSize":14,"color":"#ff3010","align":"center","baseline":"middle"},
 "encoding":{"x":{"field":"k","type":"quantitative","scale":{"domain":[-0.125,153.875],"nice":false,"zero":false}},"y":{"field":"p","type":"quantitative","scale":{"domain":[2302.873,2331.259],"nice":false,"zero":false}}}},
{"data":{"values":[{"k":71.875,"p":2306.57},{"k":112.875,"p":2310.37}]},
 "mark":{"type":"text","text":"⇗","font":"DejaVu Sans","fontSize":14,"color":"#3070ff","align":"center","baseline":"middle"},
 "encoding":{"x":{"field":"k","type":"quantitative","scale":{"domain":[-0.125,153.875],"nice":false,"zero":false}},"y":{"field":"p","type":"quantitative","scale":{"domain":[2302.873,2331.259],"nice":false,"zero":false}}}},
{"data":{"values":[{"k":8.16,"p":2310.93,"t":"FSB-HighToBreak | 2310.93"}]},
 "mark":{"type":"text","align":"left","baseline":"bottom","fontSize":9.5,"font":"Liberation Sans","color":"#000000","dy":-0.5},
 "encoding":{"x":{"field":"k","type":"quantitative","scale":{"domain":[-0.125,153.875],"nice":false,"zero":false}},"y":{"field":"p","type":"quantitative","scale":{"domain":[2302.873,2331.259],"nice":false,"zero":false}},"text":{"field":"t"}}},
{"data":{"name":"header"},
 "mark":{"type":"text","align":"left","baseline":"middle","fontSize":9.6,"font":"Liberation Sans","color":"#000000"},
 "encoding":{"x":{"field":"k","type":"quantitative","scale":{"domain":[-0.125,153.875],"nice":false,"zero":false}},"y":{"field":"p","type":"quantitative","scale":{"domain":[2302.873,2331.259],"nice":false,"zero":false}},"text":{"field":"t"}}},
{"data":{"values":[{"k":154.125,"k2":159.25,"p":2313.17,"p2":2312.88}]},
 "mark":{"type":"rect","color":"#ff0000"},
 "encoding":{"x":{"field":"k","type":"quantitative","scale":{"domain":[-0.125,153.875],"nice":false,"zero":false}},"x2":{"field":"k2"},"y":{"field":"p","type":"quantitative","scale":{"domain":[2302.873,2331.259],"nice":false,"zero":false}},"y2":{"field":"p2"}}},
{"data":{"values":[{"k":154.125,"k2":159.25,"p":2312.90,"p2":2312.56}]},
 "mark":{"type":"rect","color":"#000000"},
 "encoding":{"x":{"field":"k","type":"quantitative","scale":{"domain":[-0.125,153.875],"nice":false,"zero":false}},"x2":{"field":"k2"},"y":{"field":"p","type":"quantitative","scale":{"domain":[2302.873,2331.259],"nice":false,"zero":false}},"y2":{"field":"p2"}}},
{"data":{"values":[{"k":154.125,"k2":159.25,"p":2311.10,"p2":2310.75}]},
 "mark":{"type":"rect","color":"#0000ff"},
 "encoding":{"x":{"field":"k","type":"quantitative","scale":{"domain":[-0.125,153.875],"nice":false,"zero":false}},"x2":{"field":"k2"},"y":{"field":"p","type":"quantitative","scale":{"domain":[2302.873,2331.259],"nice":false,"zero":false}},"y2":{"field":"p2"}}},
{"data":{"values":[{"k":154.625,"p":2313.025,"t":"2313.02"},{"k":154.625,"p":2312.73,"t":"2312.76"},{"k":154.625,"p":2310.925,"t":"2310.93"}]},
 "mark":{"type":"text","align":"left","baseline":"middle","fontSize":9.5,"font":"Liberation Sans","color":"#ffffff"},
 "encoding":{"x":{"field":"k","type":"quantitative","scale":{"domain":[-0.125,153.875],"nice":false,"zero":false}},"y":{"field":"p","type":"quantitative","scale":{"domain":[2302.873,2331.259],"nice":false,"zero":false}},"text":{"field":"t"}}}
]
}
